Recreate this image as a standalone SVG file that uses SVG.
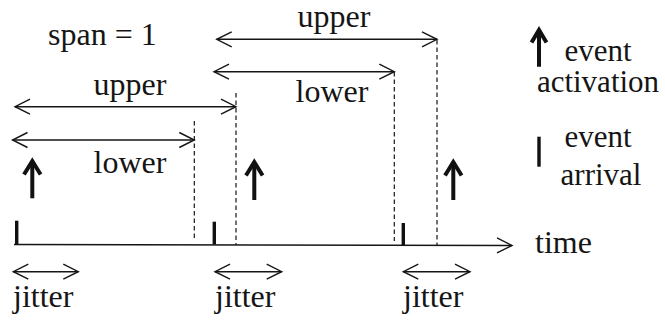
<svg xmlns="http://www.w3.org/2000/svg" width="665" height="320" viewBox="0 0 665 320">
<defs>
<marker id="chev" viewBox="-17 -10 19 20" markerWidth="19" markerHeight="20" refX="0" refY="0" markerUnits="userSpaceOnUse" orient="auto-start-reverse">
<path d="M-15,-7.5 L0,0 L-15,7.5" fill="none" stroke="#151515" stroke-width="1.4"/>
</marker>
</defs>
<rect width="665" height="320" fill="#fff"/>

<g id="connectors" stroke="#151515" stroke-width="1.4" fill="none">
<line id="axis" x1="14" y1="244.5" x2="512" y2="245.5" marker-end="url(#chev)"/>
<g stroke-width="1.2" stroke-dasharray="4.5 3">
<line x1="194.3" y1="121" x2="194.3" y2="241"/>
<line x1="236" y1="93" x2="236" y2="245"/>
<line x1="394.3" y1="72" x2="394.3" y2="241"/>
<line x1="437" y1="40" x2="437" y2="246"/>
</g>
<g marker-start="url(#chev)" marker-end="url(#chev)">
<line x1="15" y1="106.7" x2="236" y2="106.7"/>
<line x1="12.5" y1="140" x2="194.3" y2="140"/>
<line x1="216.7" y1="39.3" x2="437" y2="39.3"/>
<line x1="214" y1="71.7" x2="394.3" y2="71.7"/>
<line x1="13.3" y1="271.7" x2="78.3" y2="271.7"/>
<line x1="215" y1="271.7" x2="281.7" y2="271.7"/>
<line x1="403.3" y1="271.7" x2="470" y2="271.7"/>
</g>
</g>

<g stroke="#111" stroke-width="3.4" fill="none">
<g id="arrival1"><line x1="16.7" y1="220.7" x2="16.7" y2="244"/></g>
<g id="arrival2"><line x1="214.3" y1="221.7" x2="214.3" y2="244.5"/></g>
<g id="arrival3"><line x1="403.3" y1="223" x2="403.3" y2="245"/></g>
</g>

<g stroke="#111" stroke-width="4" fill="none">
<g id="activation1"><path d="M32.3,198.3 V161"/><path d="M24,174.5 L32.3,161 L40.6,174.5"/></g>
<g id="activation2"><path d="M254.3,200 V162"/><path d="M246,175.5 L254.3,162 L262.6,175.5"/></g>
<g id="activation3"><path d="M453.3,200 V162"/><path d="M445,175.5 L453.3,162 L461.6,175.5"/></g>
</g>

<g font-family="Liberation Serif" font-size="32" fill="#151515">
<g id="label-span"><text x="48" y="45">span = 1</text></g>
<g id="label-upper-left"><text x="130" y="95" text-anchor="middle">upper</text></g>
<g id="label-lower-left"><text x="130" y="172.5" text-anchor="middle">lower</text></g>
<g id="label-upper-right"><text x="334" y="27" text-anchor="middle">upper</text></g>
<g id="label-lower-right"><text x="332" y="101.7" text-anchor="middle">lower</text></g>
<g id="label-time"><text x="535" y="253">time</text></g>
<g id="label-jitter1"><text x="13" y="307">jitter</text></g>
<g id="label-jitter2"><text x="215" y="307">jitter</text></g>
<g id="label-jitter3"><text x="403" y="307">jitter</text></g>

<g id="legend-activation" font-size="31">
<path d="M539,66.7 V30 M531.5,42.5 L539,30 L546.5,42.5" stroke="#111" stroke-width="4" fill="none"/>
<text x="598" y="61" text-anchor="middle">event</text>
<text x="598" y="92" text-anchor="middle">activation</text>
</g>
<g id="legend-arrival" font-size="31">
<line x1="539" y1="136.7" x2="539" y2="166.7" stroke="#111" stroke-width="3.4"/>
<text x="598" y="146.7" text-anchor="middle">event</text>
<text x="601" y="185" text-anchor="middle">arrival</text>
</g>
</g>
</svg>
